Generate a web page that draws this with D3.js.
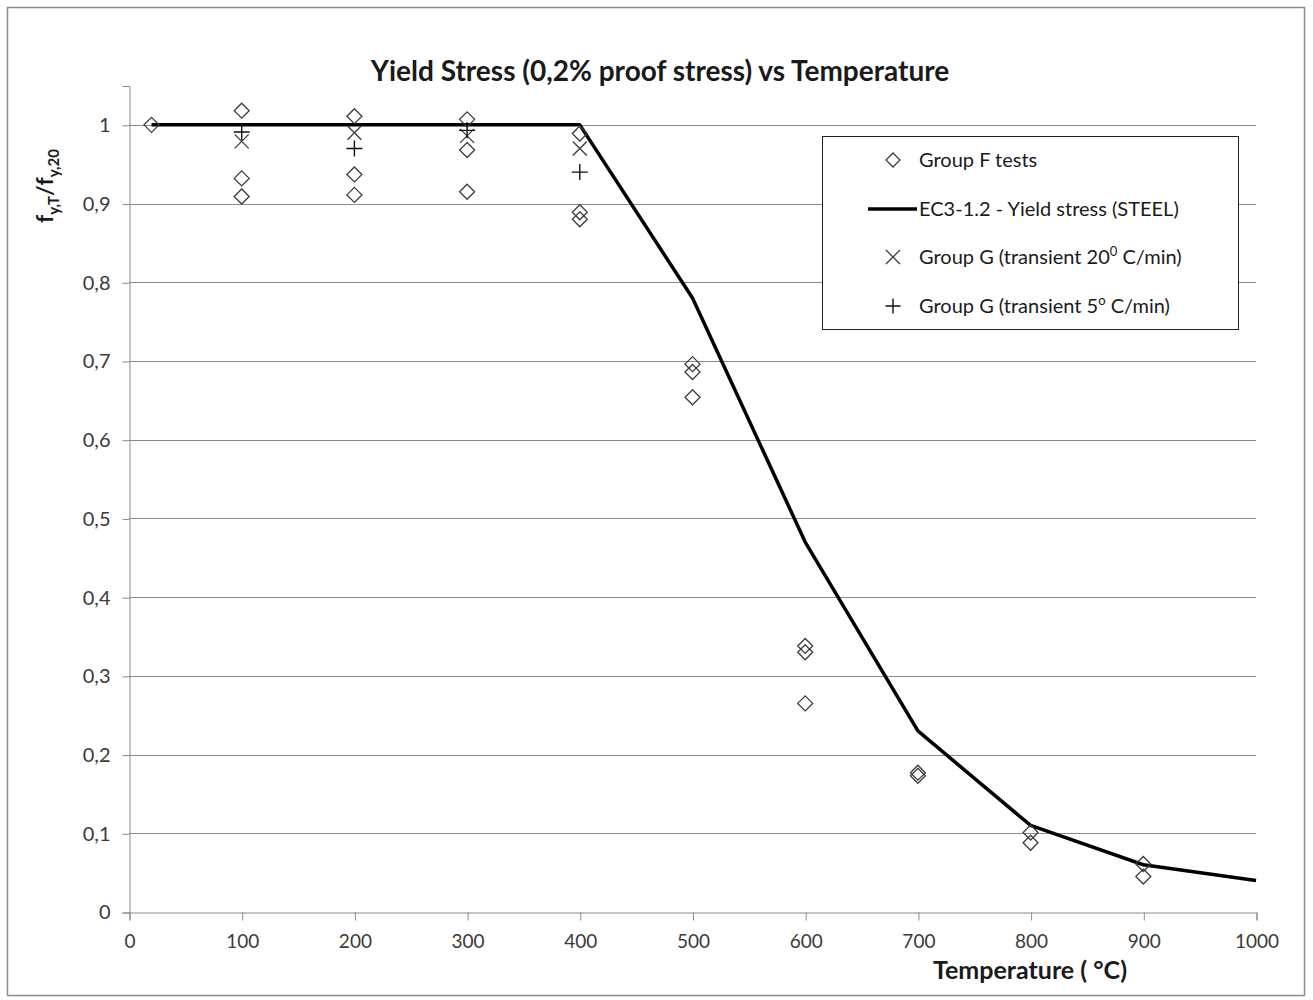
<!DOCTYPE html>
<html>
<head>
<meta charset="utf-8">
<script src="https://cdn.jsdelivr.net/npm/d3@7"></script>
<style>
  body { margin: 0; background: #fff; }
  svg text { font-family: Lato, "Open Sans", sans-serif; }
</style>
</head>
<body>
<svg id="chart" width="1313" height="1000"></svg>
<script>
// EC3-1.2 reduction curve
var ec3Temp  = [20, 100, 200, 300, 400, 500, 600, 700, 800, 900, 1000];
var ec3Ratio = [1, 1, 1, 1, 1, 0.78, 0.47, 0.23, 0.11, 0.06, 0.04];

// Group F tests
var groupFTemp  = [20, 100, 100, 100, 200, 200, 200, 300, 300, 300, 400, 400, 400,
                   500, 500, 500, 600, 600, 600, 700, 700, 800, 800, 900, 900];
var groupFRatio = [1.0, 1.018, 0.932, 0.909, 1.011, 0.937, 0.911, 1.007, 0.968, 0.915,
                   0.989, 0.889, 0.880, 0.696, 0.686, 0.654, 0.338, 0.330, 0.265,
                   0.177, 0.173, 0.101, 0.088, 0.061, 0.045];

// Group G transient 20 C/min
var groupG20Temp  = [100, 200, 300, 400];
var groupG20Ratio = [0.979, 0.990, 0.986, 0.970];

// Group G transient 5 C/min
var groupG5Temp  = [100, 200, 300, 400];
var groupG5Ratio = [0.991, 0.970, 0.993, 0.940];

var xTicks = [0, 100, 200, 300, 400, 500, 600, 700, 800, 900, 1000];
var yTicks = [0, 0.1, 0.2, 0.3, 0.4, 0.5, 0.6, 0.7, 0.8, 0.9, 1];

var svg = d3.select("#chart");

// outer chart frame
svg.append("rect")
    .attr("x", 7.5).attr("y", 7.5)
    .attr("width", 1297).attr("height", 988)
    .attr("fill", "#fff")
    .attr("stroke", "#8c8c8c")
    .attr("stroke-width", 1.5);

var x = d3.scaleLinear().domain([0, 1000]).range([129, 1256]);
var y = d3.scaleLinear().domain([0, 1.05]).range([912, 85.5]);

var fmt = function(d) { return d3.format("")(+d.toFixed(1)).replace(".", ","); };

// gridlines
svg.append("g")
    .selectAll("line")
    .data(yTicks.filter(function(d) { return d > 0; }))
    .enter().append("line")
    .attr("x1", x(0)).attr("x2", x(1000))
    .attr("y1", function(d) { return Math.round(y(d)) + 0.5; })
    .attr("y2", function(d) { return Math.round(y(d)) + 0.5; })
    .attr("stroke", "#8a8a8a")
    .attr("stroke-width", 1);

// y axis
var yAxis = svg.append("g")
    .attr("transform", "translate(" + (Math.round(x(0)) + 0.5) + ",0.5)")
    .call(d3.axisLeft(y).tickValues(yTicks).tickSize(7).tickPadding(12).tickFormat(fmt));
yAxis.select(".domain").attr("stroke", "#8a8a8a");
yAxis.selectAll(".tick line").attr("stroke", "#8a8a8a");
yAxis.selectAll(".tick text").attr("fill", "#3a3a3a").style("font-size", "20px");

// x axis
var xAxis = svg.append("g")
    .attr("transform", "translate(0.5," + (Math.round(y(0)) + 0.5) + ")")
    .call(d3.axisBottom(x).tickValues(xTicks).tickSize(8).tickFormat(d3.format("d")).tickPadding(14));
xAxis.select(".domain").attr("stroke", "#8a8a8a");
xAxis.selectAll(".tick line").attr("stroke", "#8a8a8a");
xAxis.selectAll(".tick text").attr("fill", "#3a3a3a").style("font-size", "19px");

// markers
var diamondPath = function(r) { return "M0," + (-r) + "L" + r + ",0L0," + r + "L" + (-r) + ",0Z"; };
var crossPath = function(r) { return "M" + (-r) + "," + (-r) + "L" + r + "," + r + "M" + (-r) + "," + r + "L" + r + "," + (-r); };
var plusPath = function(r) { return "M" + (-r) + ",0L" + r + ",0M0," + (-r) + "L0," + r; };

// EC3 line
var line = d3.line()
    .x(function(d, i) { return x(ec3Temp[i]); })
    .y(function(d) { return y(d); });
svg.append("path")
    .datum(ec3Ratio)
    .attr("d", line)
    .attr("fill", "none")
    .attr("stroke", "#000")
    .attr("stroke-width", 3.5)
    .attr("stroke-linejoin", "round");

svg.append("g").selectAll("path")
    .data(groupFRatio)
    .enter().append("path")
    .attr("transform", function(d, i) { return "translate(" + x(groupFTemp[i]) + "," + y(d) + ")"; })
    .attr("d", diamondPath(7.5))
    .attr("fill", "none")
    .attr("stroke", "#3c3c3c")
    .attr("stroke-width", 1.3);

svg.append("g").selectAll("path")
    .data(groupG20Ratio)
    .enter().append("path")
    .attr("transform", function(d, i) { return "translate(" + x(groupG20Temp[i]) + "," + y(d) + ")"; })
    .attr("d", crossPath(7))
    .attr("stroke", "#3c3c3c")
    .attr("stroke-width", 1.3);

svg.append("g").selectAll("path")
    .data(groupG5Ratio)
    .enter().append("path")
    .attr("transform", function(d, i) { return "translate(" + x(groupG5Temp[i]) + "," + y(d) + ")"; })
    .attr("d", plusPath(8))
    .attr("stroke", "#111")
    .attr("stroke-width", 1.4);

// title
svg.append("text")
    .attr("x", 660).attr("y", 81)
    .attr("text-anchor", "middle")
    .style("font-size", "28px")
    .style("font-weight", "bold")
    .attr("fill", "#1a1a1a")
    .text("Yield Stress (0,2% proof stress) vs Temperature");

// x axis title
svg.append("text")
    .attr("x", 1030).attr("y", 979)
    .attr("text-anchor", "middle")
    .style("font-size", "25px")
    .style("font-weight", "bold")
    .attr("fill", "#1a1a1a")
    .text("Temperature ( \u00b0C)");

// y axis title
var yt = svg.append("text")
    .attr("transform", "translate(53,186) rotate(-90)")
    .attr("text-anchor", "middle")
    .style("font-size", "23px")
    .style("font-weight", "bold")
    .attr("fill", "#1a1a1a");
yt.append("tspan").text("f");
yt.append("tspan").attr("dy", 6).style("font-size", "15px").text("y,T");
yt.append("tspan").attr("dy", -6).text("/f");
yt.append("tspan").attr("dy", 6).style("font-size", "15px").text("y,20");

// legend
var legend = svg.append("g");
legend.append("rect")
    .attr("x", 822.5).attr("y", 136.5)
    .attr("width", 416).attr("height", 193)
    .attr("fill", "#fff")
    .attr("stroke", "#222")
    .attr("stroke-width", 1);

var legendY = [160, 209, 257, 306];
var lx = 893, tx = 919;

legend.append("path")
    .attr("transform", "translate(" + lx + "," + legendY[0] + ")")
    .attr("d", diamondPath(7))
    .attr("fill", "none").attr("stroke", "#3c3c3c").attr("stroke-width", 1.3);
legend.append("line")
    .attr("x1", 868).attr("x2", 917)
    .attr("y1", legendY[1]).attr("y2", legendY[1])
    .attr("stroke", "#000").attr("stroke-width", 3.5);
legend.append("path")
    .attr("transform", "translate(" + lx + "," + legendY[2] + ")")
    .attr("d", crossPath(7))
    .attr("stroke", "#3c3c3c").attr("stroke-width", 1.3);
legend.append("path")
    .attr("transform", "translate(" + lx + "," + legendY[3] + ")")
    .attr("d", plusPath(7.5))
    .attr("stroke", "#111").attr("stroke-width", 1.4);

var legendText = function(i) {
    return legend.append("text")
        .attr("x", tx).attr("y", legendY[i] + 7)
        .style("font-size", "20px")
        .attr("fill", "#1a1a1a");
};
legendText(0).text("Group F tests");
legendText(1).text("EC3-1.2 - Yield stress (STEEL)");
var t2 = legendText(2);
t2.append("tspan").text("Group G (transient 20");
t2.append("tspan").attr("dy", -8).style("font-size", "13px").text("0");
t2.append("tspan").attr("dy", 8).text(" C/min)");
var t3 = legendText(3);
t3.append("tspan").text("Group G (transient 5");
t3.append("tspan").attr("dy", -8).style("font-size", "13px").text("o");
t3.append("tspan").attr("dy", 8).text(" C/min)");
</script>
</body>
</html>
